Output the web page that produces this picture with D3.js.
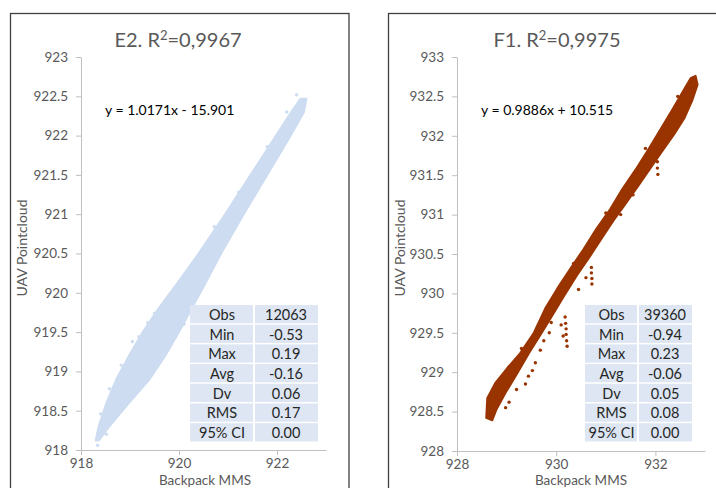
<!DOCTYPE html>
<html>
<head>
<meta charset="utf-8">
<script src="https://cdn.jsdelivr.net/npm/d3@7"></script>
<style>
  body { margin: 0; background: #fff; }
  svg text { font-family: Lato, "Open Sans", sans-serif; }
</style>
</head>
<body>
<div id="chart"></div>
<script>
// stats table
const statLabels = ["Obs", "Min", "Max", "Avg", "Dv", "RMS", "95% CI"];
const statsE2 = ["12063", "-0.53", "0.19", "-0.16", "0.06", "0.17", "0.00"];
const statsF1 = ["39360", "-0.94", "0.23", "-0.06", "0.05", "0.08", "0.00"];

// tick values
const yTicksE2 = [918, 918.5, 919, 919.5, 920, 920.5, 921, 921.5, 922, 922.5, 923];
const xTicksE2 = [918, 920, 922];
const yTicksF1 = [928, 928.5, 929, 929.5, 930, 930.5, 931, 931.5, 932, 932.5, 933];
const xTicksF1 = [928, 930, 932];

// point cloud outline (backpack, uav)
const e2Upper = [
  [918.30, 918.12], [918.36, 918.30], [918.52, 918.60], [918.72, 918.90],
  [918.98, 919.20], [919.26, 919.50], [919.58, 919.80], [919.94, 920.10],
  [920.40, 920.50], [920.94, 921.00], [921.46, 921.50], [921.98, 922.00],
  [922.29, 922.30], [922.48, 922.47]
];
const e2Lower = [
  [922.60, 922.47], [922.55, 922.30], [922.28, 922.00], [921.80, 921.50],
  [921.32, 921.00], [920.86, 920.50], [920.52, 920.10], [920.26, 919.80],
  [920.00, 919.50], [919.72, 919.20], [919.40, 918.90], [918.98, 918.60],
  [918.58, 918.30], [918.36, 918.12]
];
const e2Specks = [
  [918.34, 918.06], [918.52, 918.20], [918.40, 918.46], [918.58, 918.78],
  [918.82, 919.08], [919.05, 919.38], [919.18, 919.44], [919.36, 919.62],
  [919.50, 919.74], [920.72, 920.84], [921.22, 921.28], [921.80, 921.86],
  [922.40, 922.52], [922.20, 922.30], [921.66, 921.60], [920.10, 919.60]
];
const f1Upper = [
  [928.59, 928.42], [928.61, 928.67], [928.77, 928.86], [929.01, 929.05],
  [929.27, 929.24], [929.54, 929.49], [929.78, 929.81], [930.02, 930.06],
  [930.28, 930.31], [930.55, 930.56], [930.81, 930.82], [931.09, 931.07],
  [931.33, 931.32], [931.60, 931.57], [931.86, 931.83], [932.10, 932.08],
  [932.34, 932.33], [932.55, 932.56], [932.71, 932.73], [932.81, 932.76]
];
const f1Lower = [
  [932.85, 932.65], [932.75, 932.46], [932.59, 932.23], [932.38, 932.02],
  [932.12, 931.79], [931.88, 931.57], [931.64, 931.35], [931.39, 931.13],
  [931.15, 930.92], [930.91, 930.69], [930.67, 930.46], [930.42, 930.23],
  [930.18, 929.99], [929.94, 929.74], [929.70, 929.49], [929.45, 929.24],
  [929.21, 928.98], [928.97, 928.73], [928.79, 928.52], [928.71, 928.39]
];
const f1Outliers = [
  [930.18, 929.70], [930.19, 929.62], [930.20, 929.55], [930.20, 929.48],
  [930.21, 929.40], [930.22, 929.33], [930.14, 929.46], [930.10, 929.60],
  [930.71, 930.33], [930.71, 930.26], [930.72, 930.19], [930.72, 930.12],
  [932.02, 931.83], [932.03, 931.75], [932.04, 931.67], [932.04, 931.59],
  [932.05, 931.51], [929.90, 929.63], [929.86, 929.50], [929.68, 929.28],
  [929.58, 929.12], [929.52, 929.02], [929.44, 928.95], [929.38, 928.85],
  [929.20, 928.78], [929.05, 928.62], [928.98, 928.55], [930.45, 930.05],
  [930.60, 930.20], [931.30, 931.00], [931.55, 931.25], [929.75, 929.40],
  [928.62, 928.50], [928.66, 928.60], [929.30, 929.30], [930.35, 930.38],
  [931.00, 931.02], [931.80, 931.84], [932.45, 932.50], [932.70, 932.60]
];

const W = 716, H = 488;
const svg = d3.select("#chart").append("svg").attr("width", W).attr("height", H);

function drawPanel(cfg) {
  const g = svg.append("g");

  g.append("rect")
    .attr("x", cfg.box[0]).attr("y", 13.5)
    .attr("width", cfg.box[1]).attr("height", 520)
    .attr("fill", "none").attr("stroke", "#404040").attr("stroke-width", 1.3);

  const x = d3.scaleLinear().domain(cfg.xDomain).range(cfg.xRange);
  const y = d3.scaleLinear().domain(cfg.yDomain).range(cfg.yRange);

  const fmt = d => (d % 1 ? d.toFixed(1) : d);

  const yAxis = g.append("g")
    .attr("transform", `translate(${cfg.xRange[0]},0)`)
    .call(d3.axisLeft(y).tickValues(cfg.yTicks).tickFormat(fmt).tickSize(5).tickSizeOuter(0).tickPadding(8));
  const xAxis = g.append("g")
    .attr("transform", `translate(0,${cfg.yRange[0]})`)
    .call(d3.axisBottom(x).tickValues(cfg.xTicks).tickFormat(fmt).tickSize(5).tickSizeOuter(0).tickPadding(3));
  [yAxis, xAxis].forEach(a => {
    a.select(".domain").attr("stroke", "#bfbfbf");
    a.selectAll(".tick line").attr("stroke", "#bfbfbf");
    a.selectAll(".tick text").attr("fill", "#595959").style("font-size", "13.5px");
  });

  // point cloud
  const line = d3.line().x(d => x(d[0])).y(d => y(d[1]));
  g.append("path")
    .attr("d", line(cfg.upper.concat(cfg.lower)) + "Z")
    .attr("fill", cfg.color).attr("stroke", cfg.color).attr("stroke-width", 2)
    .attr("stroke-linejoin", "round");
  g.selectAll(".out")
    .data(cfg.outliers)
    .enter().append("circle")
    .attr("cx", d => x(d[0])).attr("cy", d => y(d[1]))
    .attr("r", 1.7).attr("fill", cfg.color);

  // title
  const t = g.append("text")
    .attr("x", cfg.titleX).attr("y", 47)
    .attr("text-anchor", "middle").attr("fill", "#595959")
    .style("font-size", "20px");
  t.append("tspan").text(cfg.name + ". R");
  t.append("tspan").attr("dy", -7).style("font-size", "13px").text("2");
  t.append("tspan").attr("dy", 7).text("=" + cfg.r2);

  g.append("text")
    .attr("x", cfg.eqX).attr("y", 115)
    .attr("fill", "#000").style("font-size", "14px")
    .text(cfg.equation);

  g.append("text")
    .attr("transform", `translate(${cfg.yLabelX},248) rotate(-90)`)
    .attr("text-anchor", "middle").attr("fill", "#595959")
    .style("font-size", "14px")
    .text("UAV Pointcloud");

  g.append("text")
    .attr("x", cfg.xLabelX).attr("y", 485)
    .attr("text-anchor", "middle").attr("fill", "#595959")
    .style("font-size", "13.5px")
    .text("Backpack MMS");

  // stats table
  const rowH = 19.7;
  const rows = g.append("g").selectAll("g")
    .data(statLabels.map((s, i) => [s, cfg.stats[i]]))
    .enter().append("g")
    .attr("transform", (d, i) => `translate(${cfg.table[0]},${305 + i * rowH})`);
  rows.append("rect")
    .attr("x", 0).attr("width", cfg.table[1] - 1).attr("height", rowH - 1.5)
    .attr("fill", "#dde6f2");
  rows.append("rect")
    .attr("x", cfg.table[1] + 1).attr("width", cfg.table[2] - 1).attr("height", rowH - 1.5)
    .attr("fill", "#dde6f2");
  rows.append("text")
    .attr("x", cfg.table[1] / 2).attr("y", rowH / 2 + 5)
    .attr("text-anchor", "middle").attr("fill", "#262626").style("font-size", "14.5px")
    .text(d => d[0]);
  rows.append("text")
    .attr("x", cfg.table[1] + cfg.table[2] / 2).attr("y", rowH / 2 + 5)
    .attr("text-anchor", "middle").attr("fill", "#262626").style("font-size", "14.5px")
    .text(d => d[1]);
}

drawPanel({
  name: "E2", r2: "0,9967", equation: "y = 1.0171x - 15.901",
  box: [10.5, 338.5], titleX: 178, eqX: 105, yLabelX: 27, xLabelX: 205,
  xDomain: [918, 923], xRange: [81, 326], yDomain: [918, 923], yRange: [450, 57],
  xTicks: xTicksE2, yTicks: yTicksE2,
  upper: e2Upper, lower: e2Lower, outliers: e2Specks, color: "#cddcf0",
  stats: statsE2, table: [190, 64, 64]
});

drawPanel({
  name: "F1", r2: "0,9975", equation: "y = 0.9886x + 10.515",
  box: [388.5, 400], titleX: 557, eqX: 481, yLabelX: 405, xLabelX: 581,
  xDomain: [928, 933], xRange: [457, 705], yDomain: [928, 933], yRange: [451, 57],
  xTicks: xTicksF1, yTicks: yTicksF1,
  upper: f1Upper, lower: f1Lower, outliers: f1Outliers, color: "#993300",
  stats: statsF1, table: [585, 53, 54]
});
</script>
</body>
</html>
